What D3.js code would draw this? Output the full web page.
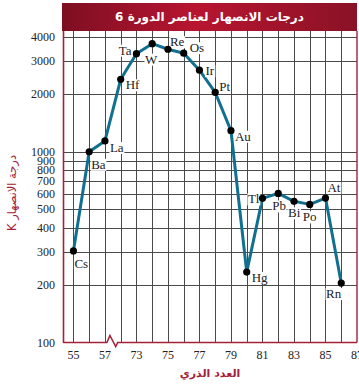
<!DOCTYPE html>
<html><head><meta charset="utf-8">
<script src="https://cdn.jsdelivr.net/npm/d3@7"></script>
<style>body{margin:0;background:#fff}svg{display:block}</style>
</head><body>
<svg id="c" width="359" height="388"></svg>
<script>
const elements = ["Cs","Ba","La","Hf","Ta","W","Re","Os","Ir","Pt","Au","Hg","Tl","Pb","Bi","Po","At","Rn"];
const atomicNumbers = [55,56,57,72,73,74,75,76,77,78,79,80,81,82,83,84,85,86];
const meltingPoints = [302,1000,1140,2400,3270,3690,3450,3290,2680,2050,1290,234,570,605,550,530,572,205];
const xTickLabels = [55,57,73,75,77,79,81,83,85,87];
const yTickValues = [100,200,300,400,500,600,700,800,900,1000,2000,3000,4000];
const titleText = "درجات الانصهار لعناصر الدورة 6";
const yTitle = "درجة الانصهار K";
const xTitle = "العدد الذري";
// label placement: [dx, dy, anchor]
const labelPos = {
  Cs:[1,17,"start"],Ba:[2,17,"start"],La:[5,11,"start"],Hf:[5,10,"start"],
  Ta:[-5,1,"end"],W:[-1,20,"middle"],Re:[2,-3,"start"],Os:[6,-1,"start"],
  Ir:[6,5,"start"],Pt:[4,-1,"start"],Au:[4,10,"start"],Hg:[5,10,"start"],
  Tl:[-3,5,"end"],Pb:[-6,17,"start"],Bi:[-6,16,"start"],Po:[-7,17,"start"],
  At:[2,-6,"start"],Rn:[0,15,"end"]
};

const idx = n => n <= 57 ? n - 55 : n - 69;
const L = 63.5, R = 357, T = 31, B = 342.5;
const x = d3.scaleLinear().domain([-0.63, 18]).range([L, R]);
const y = d3.scaleLog().domain([100, 4300]).range([B, T]);
const maroon = "#a3213b";
const svg = d3.select("#c");

const defs = svg.append("defs");
const g1 = defs.append("linearGradient").attr("id","tg");
g1.append("stop").attr("offset","0").attr("stop-color","#7d0f22");
g1.append("stop").attr("offset","0.45").attr("stop-color","#b81530");
g1.append("stop").attr("offset","1").attr("stop-color","#8a1226");

// title bar
svg.append("rect").attr("x",62).attr("y",3).attr("width",R-62).attr("height",T-3).attr("fill","url(#tg)");
svg.append("text").attr("x",(62+R)/2).attr("y",21).attr("text-anchor","middle")
  .attr("fill","#fff").attr("font-family","DejaVu Sans").attr("font-weight","bold")
  .attr("font-size",12).attr("direction","rtl").text(titleText);

// grid
const grid = svg.append("g").attr("stroke","#4a4a4a").attr("stroke-width",1);
d3.range(0,18).forEach(i=>{
  grid.append("line").attr("x1",Math.round(x(i))+0.5).attr("x2",Math.round(x(i))+0.5).attr("y1",T).attr("y2",B);
});
yTickValues.filter(v=>v>100).forEach(v=>{
  grid.append("line").attr("x1",L).attr("x2",R).attr("y1",Math.round(y(v))+0.5).attr("y2",Math.round(y(v))+0.5);
});

// borders
svg.append("line").attr("x1",L).attr("x2",L).attr("y1",T).attr("y2",B+0.5).attr("stroke",maroon).attr("stroke-width",1.6);
svg.append("line").attr("x1",R).attr("x2",R).attr("y1",T).attr("y2",B).attr("stroke",maroon).attr("stroke-width",1.4);
// bottom axis with break
const bx1 = x(2)+2, bx2 = x(3)-3;
svg.append("path").attr("fill","none").attr("stroke",maroon).attr("stroke-width",1.6)
  .attr("d",`M${L},${B} L${bx1},${B} L${bx1+3},${B-7} L${bx2-2},${B+4} L${bx2},${B} L${R},${B}`);

// y tick labels
svg.append("g").selectAll("text").data(yTickValues).join("text")
  .attr("x",55).attr("y",d=>y(d)+4).attr("text-anchor","end")
  .attr("font-family","Liberation Serif").attr("font-size",12).attr("fill","#222").text(d=>d);
// x tick labels
svg.append("g").selectAll("text").data(xTickLabels).join("text")
  .attr("x",d=>x(idx(d))).attr("y",359).attr("text-anchor","middle")
  .attr("font-family","Liberation Serif").attr("font-size",12).attr("fill","#222").text(d=>d);

// axis titles
svg.append("text").attr("transform","translate(16,193) rotate(-90)").attr("text-anchor","middle")
  .attr("fill",maroon).attr("font-family","DejaVu Sans").attr("font-size",11.5).attr("direction","rtl").text(yTitle);
svg.append("text").attr("x",210).attr("y",377).attr("text-anchor","middle")
  .attr("fill",maroon).attr("font-family","DejaVu Sans").attr("font-weight","bold").attr("font-size",11).attr("direction","rtl").text(xTitle);

// line
const pts = elements.map((e,i)=>({e, n:atomicNumbers[i], v:meltingPoints[i]}));
svg.append("path").datum(pts).attr("fill","none").attr("stroke","#11708f").attr("stroke-width",3)
  .attr("stroke-linejoin","round")
  .attr("d",d3.line().x(d=>x(idx(d.n))).y(d=>y(d.v)));

// labels with white background
const lg = svg.append("g");
pts.forEach(d=>{
  const [dx,dy,anc] = labelPos[d.e];
  const t = lg.append("text").attr("x",x(idx(d.n))+dx).attr("y",y(d.v)+dy).attr("text-anchor",anc)
    .attr("font-family","Liberation Serif").attr("font-size",13).attr("fill","#222").text(d.e);
  const bb = t.node().getBBox();
  lg.insert("rect","text").attr("x",bb.x-0.5).attr("y",bb.y+2).attr("width",bb.width+1).attr("height",bb.height-3).attr("fill","#fff");
});
svg.selectAll("circle.p").data(pts).join("circle").attr("class","p")
  .attr("cx",d=>x(idx(d.n))).attr("cy",d=>y(d.v)).attr("r",3.6).attr("fill","#000");
</script>
</body></html>
